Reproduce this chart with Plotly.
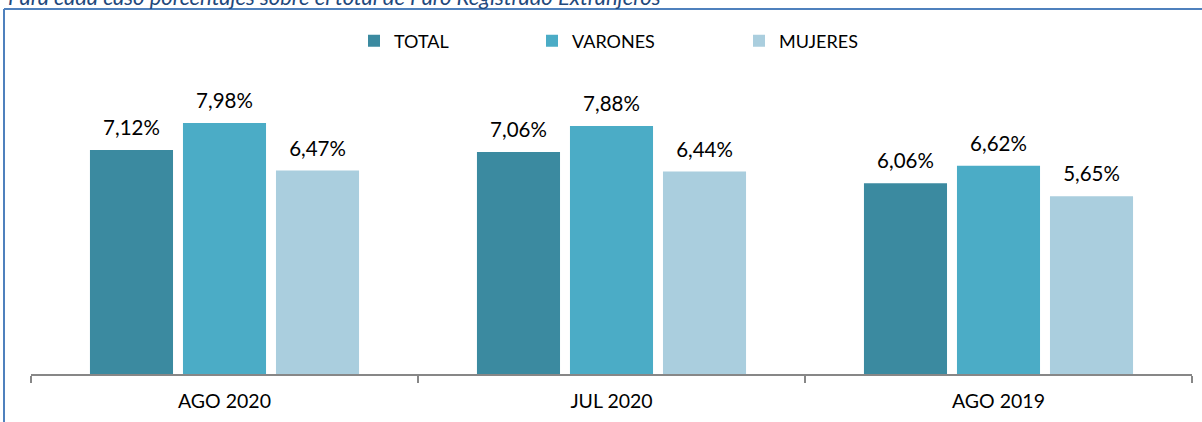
import plotly.graph_objects as go

categories = ["AGO 2020", "JUL 2020", "AGO 2019"]
total = [7.12, 7.06, 6.06]
varones = [7.98, 7.88, 6.62]
mujeres = [6.47, 6.44, 5.65]
series_names = ["TOTAL", "VARONES", "MUJERES"]
colors = ["#3B8AA0", "#4BACC6", "#AACEDE"]

FONT = "Lato"
W, H = 1202, 422
ML, MR, MT, MB = 31, 10, 40, 48
plot_w = W - ML - MR
plot_h = H - MT - MB
px_per_unit = 31.46
y_max = plot_h / px_per_unit

def fmt(v):
    return f"{v:.2f}%".replace(".", ",")

fig = go.Figure()
legend_ids = ["legend", "legend2", "legend3"]
for name, vals, col, lg in zip(series_names, [total, varones, mujeres], colors, legend_ids):
    fig.add_trace(go.Bar(
        name=name, x=categories, y=vals, marker=dict(color=col, line=dict(width=0)),
        offsetgroup=name, legend=lg, hoverinfo="skip",
    ))
    fig.add_trace(go.Scatter(
        x=categories, y=vals, mode="markers+text", text=[fmt(v) for v in vals],
        textposition="top center", textfont=dict(family=FONT, size=20.5, color="#000000"),
        marker=dict(size=14, opacity=0), offsetgroup=name, showlegend=False,
        hoverinfo="skip", cliponaxis=False,
    ))

def px_to_paper_x(px):
    return (px - ML) / plot_w

def px_to_paper_y(py):
    return (H - MB - py) / plot_h

legend_text_starts = [392, 570, 777]
legend_common = dict(orientation="h", yanchor="middle", xanchor="left",
                     font=dict(family=FONT, size=18, color="#000000"),
                     bgcolor="rgba(0,0,0,0)", itemwidth=30, tracegroupgap=0)
layout_legends = {}
for lg, tx in zip(legend_ids, legend_text_starts):
    layout_legends[lg] = dict(legend_common, x=px_to_paper_x(tx - 38), y=px_to_paper_y(41))

fig.update_layout(
    width=W, height=H,
    margin=dict(l=ML, r=MR, t=MT, b=MB, autoexpand=False),
    paper_bgcolor="white", plot_bgcolor="white",
    barmode="group", bargap=0.279, bargroupgap=0.107,
    scattermode="group", scattergap=0.279,
    font=dict(family=FONT, size=18, color="#000000"),
    xaxis=dict(
        type="category", showline=True, linecolor="#878787", linewidth=2,
        ticks="outside", tickson="boundaries", ticklen=7, tickwidth=2, tickcolor="#878787",
        showgrid=False, zeroline=False, tickfont=dict(family=FONT, size=19.5, color="#000000"),
        ticklabelstandoff=9,
    ),
    yaxis=dict(visible=False, range=[0, y_max], showgrid=False, zeroline=False),
    showlegend=True,
    **layout_legends,
)

fig.add_annotation(
    text="<i>Para cada caso porcentajes sobre el total de Paro Registrado Extranjeros</i>",
    xref="paper", yref="paper", x=px_to_paper_x(6), y=px_to_paper_y(12),
    xanchor="left", yanchor="bottom", showarrow=False,
    font=dict(family=FONT, size=22, color="#1F497D"),
)

border = dict(color="#4F81BD", width=2)
fig.add_shape(type="line", xref="paper", yref="paper",
              x0=px_to_paper_x(4), x1=px_to_paper_x(W + 10),
              y0=px_to_paper_y(9), y1=px_to_paper_y(9), line=border)
fig.add_shape(type="line", xref="paper", yref="paper",
              x0=px_to_paper_x(4), x1=px_to_paper_x(4),
              y0=px_to_paper_y(9), y1=px_to_paper_y(H + 10), line=border)

fig.write_html("out.html", config={"displayModeBar": False},
               post_script="document.body.style.margin='0px';")
